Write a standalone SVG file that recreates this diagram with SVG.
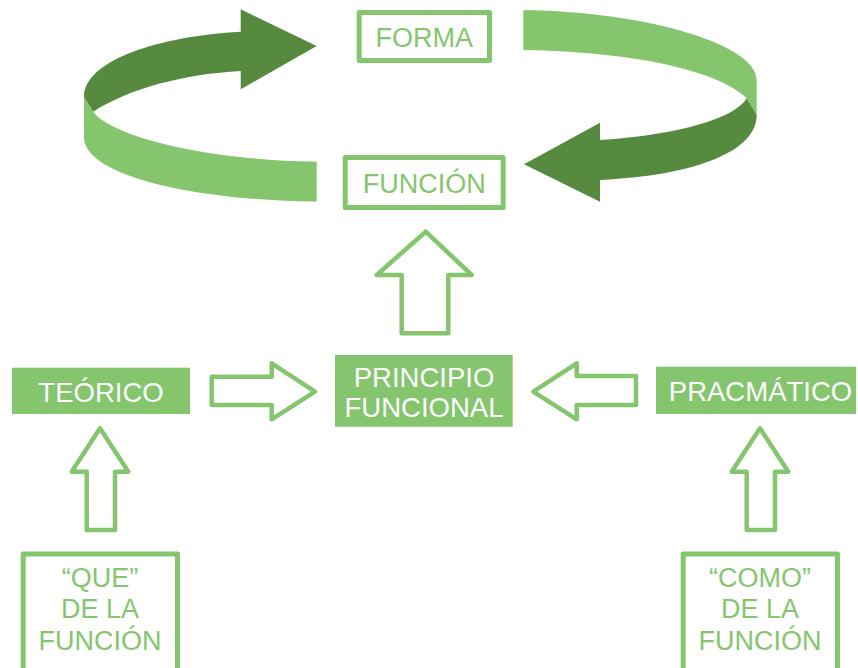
<svg xmlns="http://www.w3.org/2000/svg" width="858" height="668" viewBox="0 0 858 668">
<style>
.light{fill:#84C56E}
.dark{fill:#558A3F}
.obox{fill:#fff;stroke:#84C56E;stroke-width:5;stroke-linejoin:round}
.fbox{fill:#84C56E}
.oarrow{fill:#fff;stroke:#84C56E;stroke-width:4.5;stroke-linejoin:round}
.gt{font-family:"Liberation Sans",Arial,sans-serif;font-size:27px;fill:#84C56E;text-anchor:middle}
.wt{font-family:"Liberation Sans",Arial,sans-serif;font-size:27.5px;fill:#fff;text-anchor:middle}
</style>
<rect width="858" height="668" fill="#fff"/>
<g id="connectors">
  <g id="cycle-left">
    <path class="light" d="M84,97 L84,137 C84,175 190,200 316.7,201.7 L316.7,161.7 C200,160 110,135 93.3,111.7 Z"/>
    <path class="dark" d="M240.7,31.7 C160,36 84,60 84,97 L93.3,111.7 C130,88 185,74 240.7,71 L240.7,89.3 L316.7,46 L240.7,9.3 Z"/>
  </g>
  <g id="cycle-right">
    <path class="light" d="M523.3,10 C650,12 756.7,45 756.7,80 L756.7,115 L746.7,98.3 C720,72 640,52 523.3,50 Z"/>
    <path class="dark" d="M746.7,98.3 L756.7,115 C756.7,150 700,175 600,180 L600,201.7 L524,164.3 L600,122.7 L600,140 C680,135 735,118 746.7,98.3 Z"/>
  </g>
  <path id="arrow-principio-funcion" class="oarrow" d="M425.7,231.7 L471.7,275 L448.3,275 L448.3,333.3 L401.7,333.3 L401.7,275 L376.7,275 Z"/>
  <path id="arrow-teorico-principio" class="oarrow" d="M315,391.7 L271.7,363.3 L271.7,376.7 L211.7,376.7 L211.7,405 L271.7,405 L271.7,419.3 Z"/>
  <path id="arrow-pracmatico-principio" class="oarrow" d="M533.3,391.7 L576.7,363.3 L576.7,376 L636,376 L636,405 L576.7,405 L576.7,419.3 Z"/>
  <path id="arrow-que-teorico" class="oarrow" d="M100,428.3 L128.3,471.7 L115,471.7 L115,530 L86.7,530 L86.7,471.7 L71.7,471.7 Z"/>
  <path id="arrow-como-pracmatico" class="oarrow" d="M760,428.3 L788.3,471.7 L775,471.7 L775,530 L746.7,530 L746.7,471.7 L731.7,471.7 Z"/>
</g>
<g id="forma">
  <rect class="obox" x="359.2" y="12.5" width="130.3" height="48"/>
  <text class="gt" x="424.3" y="47">FORMA</text>
</g>
<g id="funcion">
  <rect class="obox" x="345.2" y="157.5" width="158" height="50"/>
  <text class="gt" x="424.2" y="193">FUNCIÓN</text>
</g>
<g id="teorico">
  <rect class="fbox" x="12" y="367.7" width="178" height="46.3"/>
  <text class="wt" x="101" y="401.7">TEÓRICO</text>
</g>
<g id="principio">
  <rect class="fbox" x="335" y="355" width="177.7" height="71.7"/>
  <text class="wt" x="424" y="386.7">PRINCIPIO</text>
  <text class="wt" x="424" y="416.7">FUNCIONAL</text>
</g>
<g id="pracmatico">
  <rect class="fbox" x="656" y="366.7" width="200" height="47.3"/>
  <text class="wt" x="760.5" y="401">PRACMÁTICO</text>
</g>
<g id="que">
  <rect class="obox" x="23.2" y="554" width="154.3" height="150"/>
  <text class="gt" x="100" y="586.7">“QUE”</text>
  <text class="gt" x="100" y="618.3">DE LA</text>
  <text class="gt" x="100" y="650">FUNCIÓN</text>
</g>
<g id="como">
  <rect class="obox" x="683.2" y="554" width="154.3" height="150"/>
  <text class="gt" x="760" y="586.7">“COMO”</text>
  <text class="gt" x="760" y="618.3">DE LA</text>
  <text class="gt" x="760" y="650">FUNCIÓN</text>
</g>
</svg>
